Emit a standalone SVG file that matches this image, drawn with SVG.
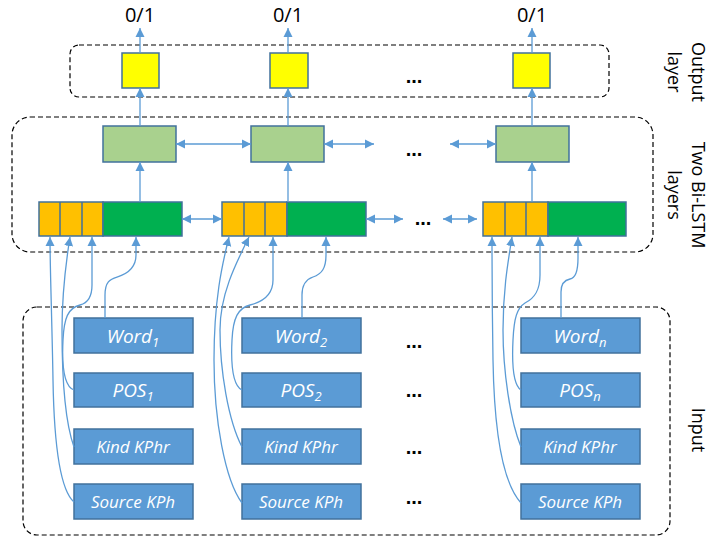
<svg xmlns="http://www.w3.org/2000/svg" width="712" height="538" viewBox="0 0 712 538">
<defs>
<style>
.dash{fill:none;stroke:#000;stroke-width:1.2;stroke-dasharray:5 3}
.box{stroke:#41719C;stroke-width:1.5}
.y{fill:#FFFF00}
.lg{fill:#A9D18E}
.or{fill:#FFC000}
.dg{fill:#00B050}
.inp{fill:#5B9BD5;stroke:#41719C;stroke-width:1.5}
.c{fill:none;stroke:#5B9BD5;stroke-width:1.3}
.a{marker-end:url(#ah)}
.d{marker-start:url(#ah);marker-end:url(#ah)}
.t{font-family:"Open Sans","Liberation Sans",sans-serif;fill:#000}
.it{font-family:"Open Sans","Liberation Sans",sans-serif;font-style:italic;fill:#fff;text-anchor:middle}
.dots{font-family:"Liberation Sans",sans-serif;font-weight:bold;font-size:20px;fill:#000;text-anchor:middle}
</style>
<marker id="ah" markerUnits="userSpaceOnUse" markerWidth="10" markerHeight="10" viewBox="0 0 10 10" refX="9" refY="5" orient="auto-start-reverse">
<path d="M0,0.5 L9,5 L0,9.5 z" fill="#5B9BD5"/>
</marker>
</defs>

<g id="frames">
<rect class="dash" x="70" y="45" width="539" height="52" rx="9"/>
<rect class="dash" x="12" y="117" width="641" height="135" rx="18"/>
<rect class="dash" x="23" y="307" width="647" height="228" rx="14"/>
</g>

<g id="outputs">
<text class="t" x="140" y="22" font-size="20" text-anchor="middle">0/1</text>
<text class="t" x="288" y="22" font-size="20" text-anchor="middle">0/1</text>
<text class="t" x="532" y="22" font-size="20" text-anchor="middle">0/1</text>
</g>

<g id="out1"><rect class="box y" x="122" y="53" width="37" height="35"/></g>
<g id="out2"><rect class="box y" x="270" y="53" width="38" height="35"/></g>
<g id="out3"><rect class="box y" x="513" y="53" width="37" height="35"/></g>
<text class="dots" x="414" y="83">...</text>

<g id="lstm2_1"><rect class="box lg" x="103" y="126" width="73" height="36"/></g>
<g id="lstm2_2"><rect class="box lg" x="251" y="126" width="73" height="36"/></g>
<g id="lstm2_3"><rect class="box lg" x="496" y="126" width="73" height="36"/></g>
<text class="dots" x="414" y="156">...</text>

<g id="lstm1_1">
<rect class="box or" x="39" y="202" width="64" height="34"/>
<rect class="box dg" x="103" y="202" width="79" height="34"/>
<line class="box" x1="60" y1="202" x2="60" y2="236"/>
<line class="box" x1="82" y1="202" x2="82" y2="236"/>
</g>
<g id="lstm1_2">
<rect class="box or" x="222" y="202" width="65" height="34"/>
<rect class="box dg" x="287" y="202" width="79" height="34"/>
<line class="box" x1="244" y1="202" x2="244" y2="236"/>
<line class="box" x1="265" y1="202" x2="265" y2="236"/>
</g>
<g id="lstm1_3">
<rect class="box or" x="483" y="202" width="65" height="34"/>
<rect class="box dg" x="548" y="202" width="78" height="34"/>
<line class="box" x1="505" y1="202" x2="505" y2="236"/>
<line class="box" x1="526" y1="202" x2="526" y2="236"/>
</g>
<text class="dots" x="423" y="225">...</text>

<g id="in1">
<rect class="inp" x="74" y="318" width="119" height="35"/>
<text class="it" x="133" y="343" font-size="19">Word<tspan font-size="13" dy="4">1</tspan></text>
<rect class="inp" x="74" y="373" width="119" height="34"/>
<text class="it" x="133" y="397" font-size="19">POS<tspan font-size="13" dy="4">1</tspan></text>
<rect class="inp" x="74" y="429" width="119" height="35"/>
<text class="it" x="133" y="453" font-size="17">Kind KPhr</text>
<rect class="inp" x="74" y="484" width="119" height="35"/>
<text class="it" x="133" y="508" font-size="17">Source KPh</text>
</g>
<g id="in2">
<rect class="inp" x="242" y="318" width="119" height="35"/>
<text class="it" x="301" y="343" font-size="19">Word<tspan font-size="13" dy="4">2</tspan></text>
<rect class="inp" x="242" y="373" width="119" height="34"/>
<text class="it" x="301" y="397" font-size="19">POS<tspan font-size="13" dy="4">2</tspan></text>
<rect class="inp" x="242" y="429" width="119" height="35"/>
<text class="it" x="301" y="453" font-size="17">Kind KPhr</text>
<rect class="inp" x="242" y="484" width="119" height="35"/>
<text class="it" x="301" y="508" font-size="17">Source KPh</text>
</g>
<g id="in3">
<rect class="inp" x="521" y="318" width="119" height="35"/>
<text class="it" x="580" y="343" font-size="19">Word<tspan font-size="13" dy="4">n</tspan></text>
<rect class="inp" x="521" y="373" width="119" height="34"/>
<text class="it" x="580" y="397" font-size="19">POS<tspan font-size="13" dy="4">n</tspan></text>
<rect class="inp" x="521" y="429" width="119" height="35"/>
<text class="it" x="580" y="453" font-size="17">Kind KPhr</text>
<rect class="inp" x="521" y="484" width="119" height="35"/>
<text class="it" x="580" y="508" font-size="17">Source KPh</text>
</g>
<g id="indots">
<text class="dots" x="414" y="348">...</text>
<text class="dots" x="414" y="397">...</text>
<text class="dots" x="414" y="454">...</text>
<text class="dots" x="414" y="504">...</text>
</g>

<g id="labels" class="t" font-size="18" text-anchor="middle">
<g transform="translate(692,72) rotate(90)"><text x="0" y="0">Output</text><text x="0" y="24">layer</text></g>
<g transform="translate(692,195) rotate(90)"><text x="0" y="0">Two Bi-LSTM</text><text x="0" y="24">layers</text></g>
<g transform="translate(692,430) rotate(90)"><text x="0" y="0">Input</text></g>
</g>

<g id="connectors">
<line class="c a" x1="140" y1="53" x2="140" y2="28"/>
<line class="c a" x1="288" y1="53" x2="288" y2="28"/>
<line class="c a" x1="532" y1="53" x2="532" y2="28"/>
<line class="c a" x1="140" y1="126" x2="140" y2="88"/>
<line class="c a" x1="288" y1="126" x2="288" y2="88"/>
<line class="c a" x1="532" y1="126" x2="532" y2="88"/>
<line class="c a" x1="140" y1="202" x2="140" y2="162"/>
<line class="c a" x1="288" y1="202" x2="288" y2="162"/>
<line class="c a" x1="532" y1="202" x2="532" y2="162"/>
<line class="c d" x1="176" y1="144" x2="251" y2="144"/>
<line class="c d" x1="324" y1="144" x2="374" y2="144"/>
<line class="c d" x1="450" y1="144" x2="496" y2="144"/>
<line class="c d" x1="182" y1="219" x2="222" y2="219"/>
<line class="c d" x1="366" y1="219" x2="403" y2="219"/>
<line class="c d" x1="443" y1="219" x2="477" y2="219"/>

<path class="c a" d="M105,318 L105,295 C105,282 110,279 117,277 C127,274 136,268 136,255 L136,237"/>
<path class="c a" d="M74,390 C63,386 62,360 63,340 C64,318 68,308 80,305 C88,303 92,296 92,285 L92,237"/>
<path class="c a" d="M74,447 C66,425 62,380 62,330 C62,290 66,262 70,237"/>
<path class="c a" d="M74,502 C60,490 54,440 53,380 C52,320 50,270 50,237"/>

<path class="c a" d="M302,318 L302,295 C302,283 307,279 313,277 C322,274 326,268 326,255 L326,237"/>
<path class="c a" d="M242,390 C232,385 231,360 232,340 C233,318 238,308 250,305 C262,302 273,295 273,280 L273,237"/>
<path class="c a" d="M242,447 C228,420 220,370 220,330 C220,295 235,265 249,237"/>
<path class="c a" d="M242,503 C225,480 214,420 214,360 C214,300 222,265 229,237"/>

<path class="c a" d="M561,318 L561,292 C561,283 565,280 570,279 C576,278 578,270 578,258 L578,237"/>
<path class="c a" d="M521,390 C512,384 512,360 513,340 C514,318 517,308 525,303 C535,298 540,290 540,275 L540,237"/>
<path class="c a" d="M521,447 C510,420 503,370 503,330 C503,290 508,262 512,237"/>
<path class="c a" d="M521,503 C500,480 494,420 493,360 C492,300 492,265 492,237"/>
</g>
</svg>
